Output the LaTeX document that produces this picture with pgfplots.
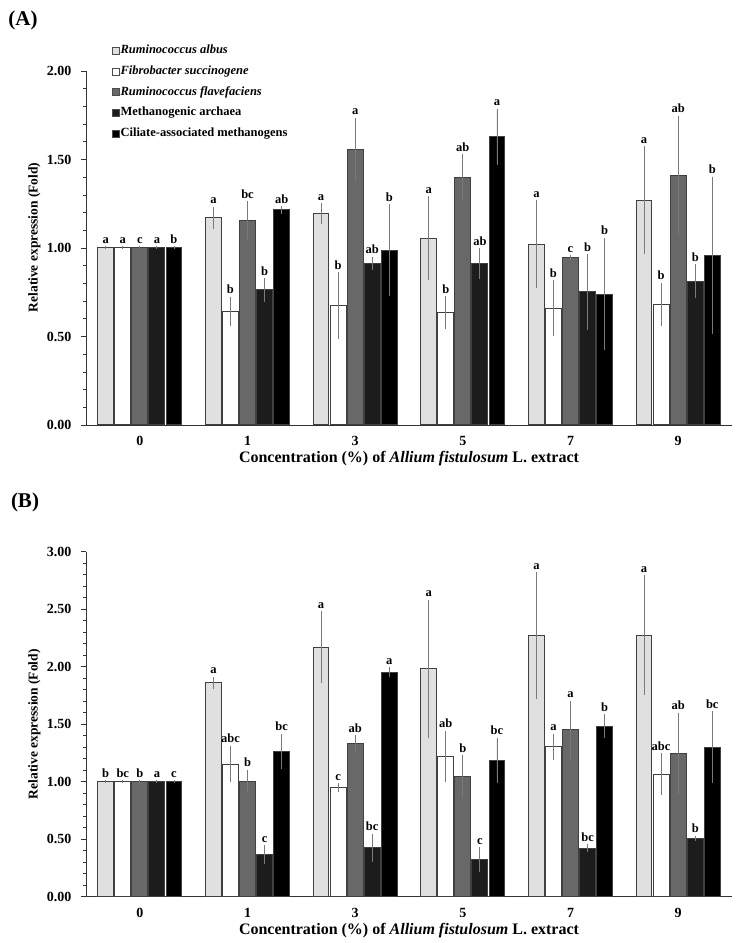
\documentclass[border=0pt]{standalone}
\usepackage{fontspec}
\setmainfont{Liberation Serif}
\usepackage{pgfplots}
\pgfplotsset{compat=1.18}
\definecolor{cA}{HTML}{E0E0E0}
\definecolor{cB}{HTML}{FFFFFF}
\definecolor{cC}{HTML}{686868}
\definecolor{cD}{HTML}{1C1C1C}
\definecolor{cE}{HTML}{000000}
\definecolor{errc}{HTML}{7A7A7A}
\pgfplotsset{
  common/.style={
    scale only axis, anchor=south west,
    width=646pt,
    xmin=-0.5, xmax=5.5, ymin=0,
    ybar=1.16pt, bar width=15.9pt,
    xtick={0,1,2,3,4,5}, xticklabels={0,1,3,5,7,9},
    x tick style={draw=none},
    axis x line*=bottom, axis y line*=left,
    axis line style={-, black!80, line width=0.8pt},
    tick align=outside,
    major tick length=5pt, minor tick length=3pt,
    y tick style={black!80, line width=0.7pt},
    minor y tick num=4,
    tick label style={font=\bfseries\fontsize{14}{16}\selectfont},
    /pgf/number format/assume math mode=true,
    yticklabel style={xshift=-6pt, /pgf/number format/.cd, fixed, fixed zerofill, precision=2},
    xticklabel style={yshift=-3pt},
    ylabel={Relative expression (Fold)},
    xlabel={Concentration (\%) of \textit{Allium fistulosum} L. extract},
    xlabel style={font=\bfseries\fontsize{16}{18}\selectfont, at={(axis description cs:0.5,0)}, anchor=center, yshift=-34pt},
    point meta=explicit symbolic,
    nodes near coords,
    visualization depends on={\thisrow{e}\as\myerr},
    error bars/y dir=both, error bars/y explicit,
    error bars/error bar style={errc, line width=0.8pt},
    error bars/error mark options={errc, mark size=1.5pt, line width=0.8pt},
    clip=false,
  },
  mybar/.style={fill=#1, draw=black!75, line width=1pt},
}
\begin{document}
\begin{tikzpicture}
\path[use as bounding box] (0,0) rectangle (748pt,943pt);
\node[font=\bfseries\fontsize{21}{24}\selectfont] at (23pt,923pt) {(A)};
\node[font=\bfseries\fontsize{21}{24}\selectfont] at (25pt,441pt) {(B)};
\begin{axis}[common, at={(86pt,518pt)}, height=354pt, ymax=2,
  ytick={0,0.5,1,1.5,2},
  ylabel style={font=\bfseries\fontsize{13.5}{15}\selectfont, at={(axis description cs:-0.08,0.53)}, anchor=center},
  every node near coord/.append style={font=\bfseries\fontsize{12.5}{14}\selectfont, anchor=base, inner sep=0pt, yshift=\myerr*177pt+4.5pt},
  legend style={at={(axis description cs:0.04,1.075)}, anchor=north west, draw=none, fill=none, inner sep=0pt,
    font=\bfseries\fontsize{12.5}{14}\selectfont, row sep=8.75pt,
    nodes={inner sep=1pt, text height=8pt, text depth=2pt}, cells={anchor=west}},
  every axis plot/.append style={legend image code/.code={\draw[#1, draw=black!70, line width=0.5pt] (0pt,-3.5pt) rectangle (7pt,3.5pt);}},
]
\addplot[mybar=cA] table[x=x,y=y,y error=e,meta=l] {
x y e l
0 1.000 0.000 a
1 1.170 0.055 a
2 1.195 0.050 a
3 1.055 0.230 a
4 1.020 0.240 a
5 1.270 0.295 a
};
\addlegendentry{\textit{Ruminococcus albus}}
\addplot[mybar=cB] table[x=x,y=y,y error=e,meta=l] {
x y e l
0 1.000 0.000 a
1 0.640 0.075 b
2 0.675 0.180 b
3 0.633 0.085 b
4 0.660 0.150 b
5 0.682 0.113 b
};
\addlegendentry{\textit{Fibrobacter succinogene}}
\addplot[mybar=cC] table[x=x,y=y,y error=e,meta=l] {
x y e l
0 1.000 0.000 c
1 1.157 0.100 bc
2 1.557 0.170 a
3 1.400 0.120 ab
4 0.945 0.005 c
5 1.410 0.330 ab
};
\addlegendentry{\textit{Ruminococcus flavefaciens}}
\addplot[mybar=cD] table[x=x,y=y,y error=e,meta=l] {
x y e l
0 1.000 0.000 a
1 0.763 0.057 b
2 0.913 0.030 ab
3 0.911 0.080 ab
4 0.752 0.205 b
5 0.812 0.088 b
};
\addlegendentry{Methanogenic archaea}
\addplot[mybar=cE] table[x=x,y=y,y error=e,meta=l] {
x y e l
0 1.000 0.000 b
1 1.215 0.012 ab
2 0.988 0.250 b
3 1.628 0.150 a
4 0.740 0.310 b
5 0.960 0.435 b
};
\addlegendentry{Ciliate-associated methanogens}
\end{axis}
\begin{axis}[common, at={(86pt,46.3pt)}, height=345pt, ymax=3,
  ytick={0,0.5,1,1.5,2,2.5,3},
  ylabel style={font=\bfseries\fontsize{13.5}{15}\selectfont, at={(axis description cs:-0.08,0.5)}, anchor=center},
  every node near coord/.append style={font=\bfseries\fontsize{12.5}{14}\selectfont, anchor=base, inner sep=0pt, yshift=\myerr*115pt+4.5pt},
]
\addplot[mybar=cA] table[x=x,y=y,y error=e,meta=l] {
x y e l
0 1.000 0.000 b
1 1.859 0.040 a
2 2.167 0.300 a
3 1.981 0.590 a
4 2.268 0.540 a
5 2.274 0.510 a
};
\addplot[mybar=cB] table[x=x,y=y,y error=e,meta=l] {
x y e l
0 1.000 0.000 bc
1 1.153 0.145 abc
2 0.950 0.025 c
3 1.220 0.210 ab
4 1.305 0.100 a
5 1.066 0.170 abc
};
\addplot[mybar=cC] table[x=x,y=y,y error=e,meta=l] {
x y e l
0 1.000 0.000 b
1 1.005 0.085 b
2 1.331 0.060 ab
3 1.046 0.170 b
4 1.452 0.240 a
5 1.245 0.340 ab
};
\addplot[mybar=cD] table[x=x,y=y,y error=e,meta=l] {
x y e l
0 1.000 0.000 a
1 0.365 0.070 c
2 0.425 0.110 bc
3 0.320 0.095 c
4 0.422 0.020 bc
5 0.508 0.010 b
};
\addplot[mybar=cE] table[x=x,y=y,y error=e,meta=l] {
x y e l
0 1.000 0.000 c
1 1.264 0.140 bc
2 1.952 0.030 a
3 1.186 0.185 bc
4 1.484 0.090 b
5 1.300 0.300 bc
};
\end{axis}
\end{tikzpicture}
\end{document}
